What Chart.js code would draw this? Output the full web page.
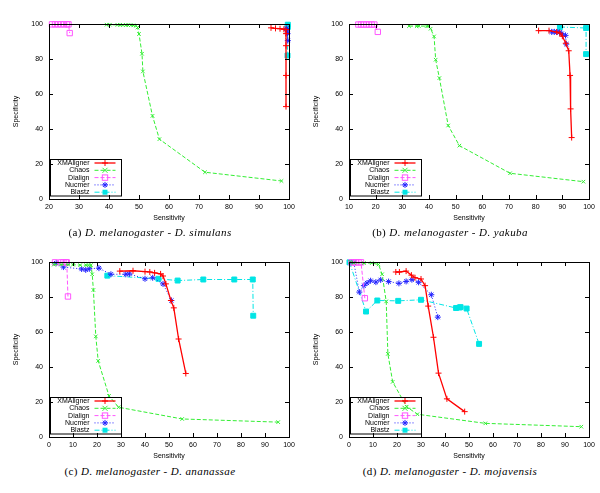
<!DOCTYPE html>
<html>
<head>
<meta charset="utf-8">
<script src="https://cdn.jsdelivr.net/npm/chart.js@4.4.1/dist/chart.umd.min.js"></script>
<style>
  body { margin: 0; background: #fff; }
  #page { position: relative; width: 600px; height: 493px; overflow: hidden; }
  .panel { position: absolute; width: 300px; height: 225px; }
  .caption {
    position: absolute; width: 300px; text-align: center;
    font-family: "Liberation Serif", "DejaVu Serif", serif; font-size: 11px;
    line-height: 12px; color: #000; letter-spacing: 0.4px;
  }
</style>
</head>
<body>
<div id="page">
  <div class="panel" style="left:0;top:0"><canvas id="chartA" width="300" height="225"></canvas></div>
  <div class="panel" style="left:300px;top:0"><canvas id="chartB" width="300" height="225"></canvas></div>
  <div class="panel" style="left:0;top:238px"><canvas id="chartC" width="300" height="225"></canvas></div>
  <div class="panel" style="left:300px;top:238px"><canvas id="chartD" width="300" height="225"></canvas></div>
  <div class="caption" style="left:0;top:226px">(a) <i>D. melanogaster</i> - <i>D. simulans</i></div>
  <div class="caption" style="left:300px;top:226px">(b) <i>D. melanogaster</i> - <i>D. yakuba</i></div>
  <div class="caption" style="left:0;top:465px">(c) <i>D. melanogaster</i> - <i>D. ananassae</i></div>
  <div class="caption" style="left:300px;top:465px">(d) <i>D. melanogaster</i> - <i>D. mojavensis</i></div>
</div>
<script>
// Series names and tick labels
const seriesNames = ["XMAligner", "Chaos", "Dialign", "Nucmer", "Blastz"];
const yTicks = [0, 20, 40, 60, 80, 100];
const xTicksA = [20, 30, 40, 50, 60, 70, 80, 90, 100];
const xTicksB = [10, 20, 30, 40, 50, 60, 70, 80, 90, 100];
const xTicksCD = [0, 10, 20, 30, 40, 50, 60, 70, 80, 90, 100];

// (a) D. melanogaster - D. simulans  [sensitivity, specificity]
const xmalignerA = [[94, 97.8], [95.5, 97.5], [97, 97.3], [98.3, 97], [99, 96.8], [99, 94.5], [99, 87.6], [99, 70.6], [99, 52.8]];
const chaosA = [[39.2, 99.6], [40.3, 99.6], [42.8, 99.5], [43.7, 99.5], [44.6, 99.4], [45.7, 99.4], [46.4, 99.3], [47.3, 99.3], [48.1, 99.2], [49, 99], [49.5, 98], [50, 94.3], [51, 83], [51.3, 72.9], [54.5, 47.5], [56.8, 34.2], [72, 15.3], [97.5, 10.3]];
const dialignA = [[21, 99.8], [22, 99.8], [23, 99.8], [24, 99.8], [25, 99.8], [26, 99.8], [26.5, 99.8], [26.9, 94.8]];
const nucmerA = [[99.2, 97.5], [99.3, 96.5], [99.5, 94.5], [99.6, 90.5]];
const blastzA = [[99.6, 99.6], [99.6, 98.3], [99.5, 82]];

// (b) D. melanogaster - D. yakuba
const xmalignerB = [[81.1, 96.2], [85, 96.2], [87.9, 95.4], [89.1, 94.8], [90, 93], [91.3, 89], [92.4, 84.7], [92.9, 70.6], [93.1, 51.5], [93.5, 35.1]];
const chaosB = [[32.5, 98.8], [35.4, 98.8], [36.2, 98.8], [39.1, 98.8], [39.7, 98.8], [40.6, 97.3], [41.9, 92.9], [42.5, 79.6], [43.9, 69.1], [47.2, 42], [51.4, 30.5], [70.4, 14.7], [97.9, 9.9]];
const dialignB = [[13.5, 99.7], [14.5, 99.7], [15.5, 99.7], [16.5, 99.7], [17.5, 99.7], [18.5, 99.7], [19.5, 99.7], [20.8, 95.5]];
const nucmerB = [[86, 95.5], [87, 95.5], [88, 95.5], [89, 95.2], [89.8, 94.5], [91.2, 93.5], [91.5, 88.5]];
const blastzB = [[89.1, 98.3], [98.9, 97.7], [98.9, 82.8]];

// (c) D. melanogaster - D. ananassae
const xmalignerC = [[29.5, 94.8], [35, 95], [40, 94.5], [42, 94.3], [44, 93.8], [46.5, 93.2], [47.5, 92], [48.7, 87.5], [50.8, 78], [52, 73.8], [54, 56], [57, 36.3]];
const chaosC = [[2, 98.5], [5, 98.5], [8, 98.5], [10, 98.5], [13, 98.2], [15.5, 98.2], [16.5, 98.2], [17.5, 98.2], [18, 93], [18.5, 84], [19.5, 57.5], [20.5, 43.5], [25, 23.5], [29, 17], [55.5, 10.3], [95.5, 8.5]];
const dialignC = [[2.5, 99.8], [5, 99.8], [6, 99.8], [7, 99.8], [7.4, 99.8], [7.9, 80.3]];
const nucmerC = [[3, 99.3], [6, 97.1], [13.6, 96], [15.3, 95.5], [16.8, 96.1], [20.8, 96.5], [25.8, 93], [32, 93], [33.5, 93.2], [40, 90.4], [43.2, 91], [47.5, 87.5], [51, 78]];
const blastzC = [[24.3, 92.2], [45.6, 90.4], [53.6, 89.4], [64.3, 90], [77.2, 90], [84.9, 90], [85.1, 69.3]];

// (d) D. melanogaster - D. mojavensis
const xmalignerD = [[19.5, 94.3], [21, 94.3], [23.8, 94.8], [26, 92.5], [27.5, 91], [30, 90.3], [31.7, 86.5], [33, 74.8], [35.2, 57], [37.3, 36.5], [40.8, 21.8], [48.2, 14.5]];
const chaosD = [[0.5, 100], [2, 99.5], [6.2, 99.4], [9.5, 99.4], [12.3, 98.6], [13.8, 93], [15.5, 77.5], [16.2, 47.5], [18.2, 31.5], [24, 17.3], [28.5, 13], [56.8, 7.8], [96.8, 5.9]];
const dialignD = [[1, 99.8], [2, 99.8], [3, 99.8], [4, 99.8], [5, 99.8], [6.6, 79.3]];
const nucmerD = [[1, 99.8], [2, 99.8], [4.3, 82.8], [6.2, 86.5], [7.5, 88], [9, 89.3], [11.2, 88.5], [13.2, 89.8], [16.5, 88.8], [20.8, 87.8], [23.8, 88.9], [26.2, 89.9], [29, 88.4], [34.3, 81.3], [37, 68.5]];
const blastzD = [[0.2, 99.8], [7.1, 71.7], [11.8, 78], [20.5, 77.8], [30, 78.4], [44.6, 73.7], [46, 74], [46.5, 74.2], [49, 73.4], [54.2, 53.2]];

// gnuplot-like line/point styles, one per series
const styles = [
  { color: "#ff0000", dash: [], point: "cross", radius: 3, fill: false, width: 1.3 },
  { color: "#33ee33", dash: [4, 2], point: "crossRot", radius: 2.5, fill: false, width: 1 },
  { color: "#ff55ff", dash: [4, 2], point: "rect", radius: 3.8, fill: false, width: 1 },
  { color: "#2222ff", dash: [1, 2], point: "star", radius: 3, fill: true, width: 1 },
  { color: "#00e5e5", dash: [5, 2, 1, 2], point: "rect", radius: 3.5, fill: true, width: 1 }
];

const fontFamily = "'Liberation Sans', Arial, sans-serif";

// Draw a legend marker by hand (same look as the chart points)
function drawMarker(ctx, st, x, y) {
  const r = st.radius;
  ctx.save();
  ctx.setLineDash([]);
  ctx.strokeStyle = st.color;
  ctx.fillStyle = st.color;
  ctx.lineWidth = 1;
  ctx.beginPath();
  if (st.point === "cross") {
    ctx.moveTo(x - r, y); ctx.lineTo(x + r, y);
    ctx.moveTo(x, y - r); ctx.lineTo(x, y + r);
    ctx.stroke();
  } else if (st.point === "crossRot") {
    ctx.moveTo(x - r, y - r); ctx.lineTo(x + r, y + r);
    ctx.moveTo(x - r, y + r); ctx.lineTo(x + r, y - r);
    ctx.stroke();
  } else if (st.point === "star") {
    ctx.moveTo(x - r, y); ctx.lineTo(x + r, y);
    ctx.moveTo(x, y - r); ctx.lineTo(x, y + r);
    ctx.moveTo(x - r * 0.7, y - r * 0.7); ctx.lineTo(x + r * 0.7, y + r * 0.7);
    ctx.moveTo(x - r * 0.7, y + r * 0.7); ctx.lineTo(x + r * 0.7, y - r * 0.7);
    ctx.stroke();
  } else {
    const s = r * Math.SQRT1_2;
    if (st.fill) ctx.fillRect(x - s, y - s, 2 * s, 2 * s);
    else ctx.strokeRect(x - s, y - s, 2 * s, 2 * s);
  }
  ctx.restore();
}

// Border box, inward ticks on all four sides, and the key in the lower left
const framePlugin = {
  id: "frame",
  afterDatasetsDraw(chart) {
    const { ctx, chartArea: a, scales } = chart;
    const line = (x1, y1, x2, y2) => { ctx.beginPath(); ctx.moveTo(x1, y1); ctx.lineTo(x2, y2); ctx.stroke(); };
    ctx.save();
    ctx.strokeStyle = "#000";
    ctx.lineWidth = 1;
    ctx.strokeRect(a.left + 0.5, a.top + 0.5, a.right - a.left, a.bottom - a.top);
    scales.x.ticks.forEach(t => {
      const px = Math.round(scales.x.getPixelForValue(t.value)) + 0.5;
      line(px, a.bottom, px, a.bottom - 4);
      line(px, a.top, px, a.top + 4);
    });
    scales.y.ticks.forEach(t => {
      const py = Math.round(scales.y.getPixelForValue(t.value)) + 0.5;
      line(a.left, py, a.left + 4, py);
      line(a.right, py, a.right - 4, py);
    });

    // Key box
    const bx = a.left + 1.5, by = a.bottom - 39.5, bw = 71, bh = 36.5;
    ctx.strokeRect(bx, by, bw, bh);
    ctx.font = "7px " + fontFamily;
    ctx.textAlign = "right";
    ctx.textBaseline = "middle";
    seriesNames.forEach((name, i) => {
      const st = styles[i];
      const ry = by + 3.5 + i * 7.3;
      ctx.fillStyle = "#000";
      ctx.fillText(name, bx + 39, ry);
      ctx.strokeStyle = st.color;
      ctx.lineWidth = st.width;
      ctx.setLineDash(st.dash);
      line(bx + 44, ry, bx + 65, ry);
      ctx.setLineDash([]);
      drawMarker(ctx, st, bx + 54.5, ry);
    });
    ctx.restore();
  }
};

// Build one panel
function makePanel(canvasId, xMin, xTicks, seriesData) {
  const datasets = seriesData.map((pts, i) => {
    const st = styles[i];
    return {
      label: seriesNames[i],
      data: pts.map(p => ({ x: p[0], y: p[1] })),
      borderColor: st.color,
      backgroundColor: st.fill ? st.color : "rgba(0,0,0,0)",
      borderWidth: st.width,
      borderDash: st.dash,
      pointStyle: st.point,
      pointRadius: st.radius,
      pointBorderWidth: 1,
      pointBorderColor: st.color,
      pointBackgroundColor: st.fill ? st.color : "rgba(0,0,0,0)",
      showLine: true,
      tension: 0,
      clip: false
    };
  });

  new Chart(document.getElementById(canvasId), {
    type: "scatter",
    data: { datasets: datasets },
    options: {
      responsive: false,
      animation: false,
      layout: { padding: { left: 0, top: 24, right: 11, bottom: 0 } },
      plugins: { legend: { display: false }, tooltip: { enabled: false } },
      scales: {
        x: {
          type: "linear",
          min: xMin,
          max: 100,
          afterBuildTicks: s => { s.ticks = xTicks.map(v => ({ value: v })); },
          ticks: { color: "#000", font: { family: fontFamily, size: 7 }, padding: 4, maxRotation: 0, autoSkip: false },
          grid: { display: false, drawTicks: false },
          border: { display: false },
          title: { display: true, text: "Sensitivity", color: "#000", font: { family: fontFamily, size: 7 }, padding: { top: 0, bottom: 3 } },
          afterFit: s => { s.height = 26; }
        },
        y: {
          min: 0,
          max: 100,
          afterBuildTicks: s => { s.ticks = yTicks.map(v => ({ value: v })); },
          ticks: { color: "#000", font: { family: fontFamily, size: 7 }, padding: 6, autoSkip: false },
          grid: { display: false, drawTicks: false },
          border: { display: false },
          title: { display: true, text: "Specificity", color: "#000", font: { family: fontFamily, size: 7 }, padding: { top: 12, bottom: 0 } },
          afterFit: s => { s.width = 49; }
        }
      }
    },
    plugins: [framePlugin]
  });
}

document.addEventListener("DOMContentLoaded", function () {
  makePanel("chartA", 20, xTicksA, [xmalignerA, chaosA, dialignA, nucmerA, blastzA]);
  makePanel("chartB", 10, xTicksB, [xmalignerB, chaosB, dialignB, nucmerB, blastzB]);
  makePanel("chartC", 0, xTicksCD, [xmalignerC, chaosC, dialignC, nucmerC, blastzC]);
  makePanel("chartD", 0, xTicksCD, [xmalignerD, chaosD, dialignD, nucmerD, blastzD]);
});
</script>
</body>
</html>
